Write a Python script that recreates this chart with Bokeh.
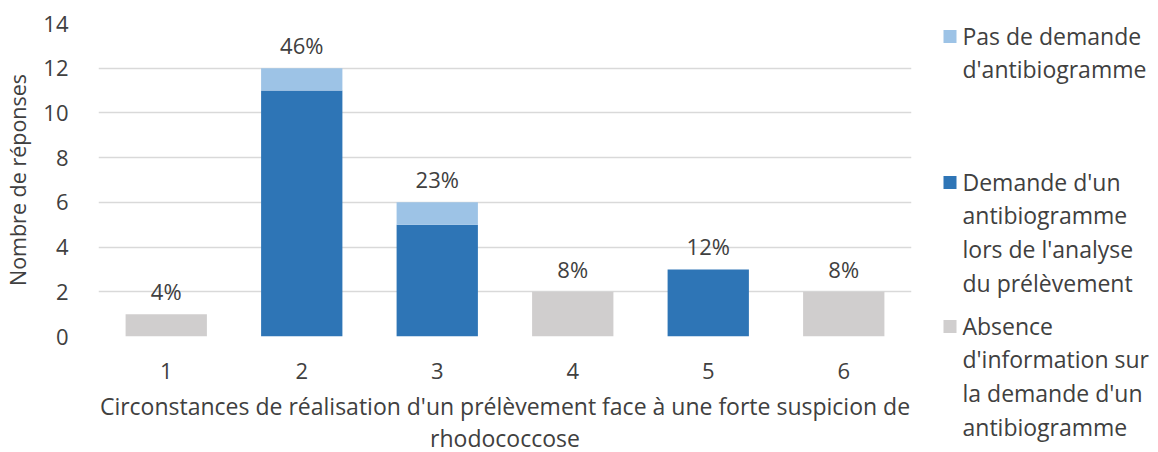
from bokeh.plotting import figure
from bokeh.layouts import row, column
from bokeh.models import ColumnDataSource, LabelSet, Range1d, FixedTicker
from bokeh.core.properties import value
from bokeh.embed import file_html
from bokeh.resources import INLINE

categories = ["1", "2", "3", "4", "5", "6"]
absence = [1, 0, 0, 2, 0, 2]
demande = [0, 11, 5, 0, 3, 0]
pas_demande = [0, 1, 1, 0, 0, 0]
pct_labels = ["4%", "46%", "23%", "8%", "12%", "8%"]
series_keys = ["absence", "demande", "pas_demande"]
series_names = [
    "Absence\nd'information sur\nla demande d'un\nantibiogramme",
    "Demande d'un\nantibiogramme\nlors de l'analyse\ndu prélèvement",
    "Pas de demande\nd'antibiogramme",
]
colors = ["#D0CECE", "#2E75B6", "#9DC3E6"]
y_ticks = [0, 2, 4, 6, 8, 10, 12, 14]

FONT = "Open Sans"
TXT = "#404040"
FS = "22px"
FS_BIG = "23px"
H = 451

totals = [a + b + c for a, b, c in zip(absence, demande, pas_demande)]
src = ColumnDataSource(dict(x=categories, absence=absence, demande=demande,
                            pas_demande=pas_demande, total=totals, lab=pct_labels))

p = figure(x_range=categories, y_range=Range1d(0, 14),
           frame_width=813, frame_height=313,
           output_backend="svg", toolbar_location=None,
           min_border_left=89, min_border_right=18, min_border_top=23, min_border_bottom=112)

rs = p.vbar_stack(series_keys, x="x", width=0.6, color=colors, source=src, line_width=0)

labels = LabelSet(x="x", y="total", text="lab", source=src, y_offset=8,
                  text_align="center", text_baseline="bottom",
                  text_font=value(FONT), text_font_size=FS, text_color=TXT)
p.add_layout(labels)

p.outline_line_color = None
p.xgrid.grid_line_color = None
p.ygrid.grid_line_color = "#D9D9D9"
p.ygrid.grid_line_width = 1.3
p.yaxis.ticker = FixedTicker(ticks=y_ticks)
for ax in (p.xaxis[0], p.yaxis[0]):
    ax.axis_line_color = None
    ax.major_tick_line_color = None
    ax.minor_tick_line_color = None
    ax.major_label_text_font = FONT
    ax.major_label_text_font_size = FS
    ax.major_label_text_color = TXT
    ax.axis_label_text_font = FONT
    ax.axis_label_text_color = TXT
    ax.axis_label_text_font_style = "normal"
p.xaxis.axis_label_text_font_size = FS_BIG
p.yaxis.axis_label_text_font_size = "21.5px"
p.xaxis.axis_label_text_line_height = 1.0
p.xaxis.major_label_standoff = 20
p.yaxis.major_label_standoff = 24
p.xaxis.axis_label = "Circonstances de réalisation d'un prélèvement face à une forte suspicion de\nrhodococcose"
p.yaxis.axis_label = "Nombre de réponses"
p.xaxis.axis_label_standoff = 8
p.yaxis.axis_label_standoff = 8
p.x_range.range_padding = 0.0

# legend panel (pixel coordinates, origin top-left)
LW = 222
lp = figure(width=LW, height=H, output_backend="svg", toolbar_location=None,
            x_range=Range1d(0, LW), y_range=Range1d(H, 0),
            min_border=0, outline_line_color=None)
lp.axis.visible = False
lp.grid.visible = False

leg_order = [2, 1, 0]
leg_rows = [36, 182, 326]
lsrc = ColumnDataSource(dict(
    sx=[20.5] * 3, tx=[33] * 3, y=leg_rows, ty=[r - 17 for r in leg_rows],
    color=[colors[i] for i in leg_order],
    label=[series_names[i] for i in leg_order],
))
lp.scatter(x="sx", y="y", marker="square", size=13, fill_color="color",
           line_color=None, source=lsrc)
lp.text(x="tx", y="ty", text="label", source=lsrc, text_font=value(FONT),
        text_font_size=FS_BIG, text_color=TXT, text_baseline="top",
        text_line_height=1.053)

layout = row(column(p), column(lp), spacing=0)
open("out.html", "w").write(file_html(layout, INLINE))
